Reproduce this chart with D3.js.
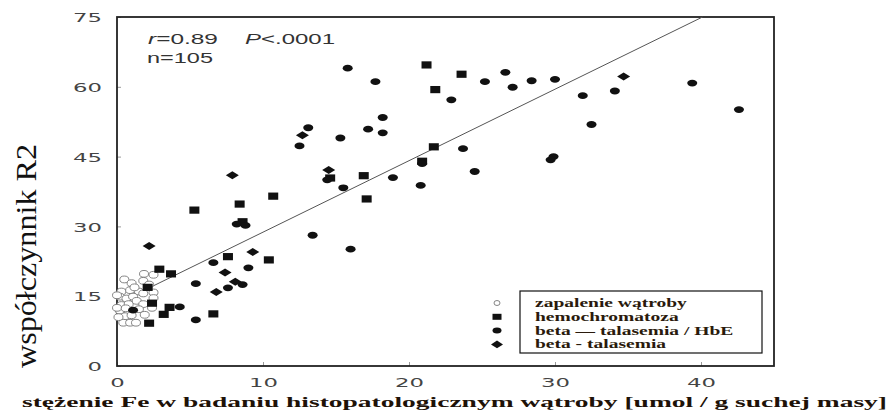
<!DOCTYPE html>
<html>
<head>
<meta charset="utf-8">
<script src="https://d3js.org/d3.v7.min.js"></script>
<style>
  body { margin: 0; background: #fff; }
  svg { display: block; }
</style>
</head>
<body>
<svg id="chart" width="890" height="417"></svg>
<script>
// ---- data ----------------------------------------------------------------
var seriesNames = ['zapalenie wątroby', 'hemochromatoza', 'beta \u2014 talasemia / HbE', 'beta - talasemia'];

// zapalenie wątroby (open circles) [Fe, R2]
var hepatitis = [
  [0.5, 18.6], [1.0, 17.8], [1.85, 19.8], [2.5, 19.6], [1.8, 18.3], [0.3, 16.0],
  [0.9, 16.3], [1.5, 16.0], [0.2, 14.9], [0.65, 14.5], [1.1, 14.9], [1.8, 15.6],
  [2.5, 15.8], [2.5, 14.6], [0.3, 13.1], [0.8, 13.3], [1.35, 14.0], [1.8, 13.3],
  [0.2, 11.9], [0.8, 11.6], [1.5, 12.2], [0.55, 10.7], [1.0, 10.9], [0.43, 9.3],
  [0.9, 9.3], [1.3, 9.3], [0.0, 15.2], [0.0, 12.5], [2.2, 17.5], [1.9, 11.0],
  [2.4, 12.5], [0.1, 10.5], [1.2, 16.9], [0.6, 12.4]
];

// hemochromatoza (squares)
var hemochromatosis = [
  [21.2, 64.7], [23.6, 62.7], [21.8, 59.4], [21.7, 47.1], [20.9, 44.0], [16.9, 40.9],
  [14.6, 40.4], [10.7, 36.5], [17.1, 35.9], [8.4, 34.8], [5.3, 33.5], [8.6, 31.0],
  [7.6, 23.5], [10.4, 22.8], [2.9, 20.8], [3.7, 19.8], [2.1, 16.9], [2.4, 13.5],
  [3.6, 12.6], [3.2, 11.1], [6.6, 11.2], [2.2, 9.2]
];

// beta - talasemia / HbE (filled circles)
var betaThalHbE = [
  [15.8, 64.0], [17.7, 61.1], [18.2, 53.4], [13.1, 51.2], [12.5, 47.3], [15.3, 49.0],
  [17.2, 50.9], [18.2, 50.1], [14.4, 40.0], [18.9, 40.5], [15.5, 38.3], [22.9, 57.2],
  [25.2, 61.1], [26.6, 63.1], [27.1, 59.9], [28.4, 61.3], [30.0, 61.6], [31.9, 58.1],
  [34.1, 59.1], [39.4, 60.8], [42.6, 55.1], [32.5, 51.9], [23.7, 46.7], [20.9, 43.5],
  [24.5, 41.8], [20.8, 38.8], [29.9, 45.0], [29.7, 44.3], [8.2, 30.5], [8.8, 30.2],
  [13.4, 28.1], [16.0, 25.1], [6.6, 22.2], [9.0, 21.1], [5.4, 17.7], [8.6, 17.5],
  [7.6, 16.8], [4.3, 12.7], [5.4, 9.9], [1.1, 12.0]
];

// beta - talasemia (diamonds)
var betaThal = [
  [12.7, 49.6], [7.9, 41.0], [14.5, 42.1], [34.7, 62.2], [2.2, 25.8], [9.3, 24.5],
  [7.4, 20.1], [6.8, 15.9], [8.1, 18.1]
];

var xTicks = [0, 10, 20, 30, 40];
var yTicks = [0, 15, 30, 45, 60, 75];

// regression line R2 = a + b * Fe
var fitIntercept = 13.4;
var fitSlope = 1.536;
var fitFrom = 2.5;

var statsR = '0.89', statsP = '<.0001', statsN = '105';

var yTitle = 'współczynnik R2';
var xTitle = 'stężenie Fe w badaniu histopatologicznym wątroby [umol / g suchej masy]';

// ---- layout ---------------------------------------------------------------
var svg = d3.select('#chart');
var plotL = 117, plotR = 774, plotT = 17, plotB = 366;

var x = d3.scaleLinear().domain([0, 45]).range([plotL, plotR]);
var y = d3.scaleLinear().domain([0, 75]).range([plotB, plotT]);

var serif = '"Liberation Serif", "Times New Roman", serif';

// the source picture is stretched sideways, so text is widened to match
function widen (sel, sx) {
    sel.each(function () {
        var w = this.getComputedTextLength();
        d3.select(this).attr('textLength', w * sx).attr('lengthAdjust', 'spacingAndGlyphs');
    });
}

// axes (ticks point inwards, domain path replaced by the frame)
var xAxis = svg.append('g')
    .attr('transform', 'translate(0,' + plotB + ')')
    .call(d3.axisBottom(x).tickValues(xTicks).tickSize(-4).tickPadding(12));

var yAxis = svg.append('g')
    .attr('transform', 'translate(' + plotL + ',0)')
    .call(d3.axisLeft(y).tickValues(yTicks).tickSize(-4).tickPadding(15));

[xAxis, yAxis].forEach(function (g) {
    g.select('.domain').remove();
    g.selectAll('.tick line').attr('stroke', '#999');
    g.selectAll('.tick text')
        .attr('fill', '#444')
        .style('font-family', '"DejaVu Sans", sans-serif')
        .style('font-size', '13px');
    widen(g.selectAll('.tick text'), 1.75);
});
yAxis.selectAll('.tick text').attr('dy', '0.36em');

// frame
svg.append('rect')
    .attr('x', plotL).attr('y', plotT)
    .attr('width', plotR - plotL).attr('height', plotB - plotT)
    .attr('fill', 'none')
    .attr('stroke', '#222')
    .attr('stroke-width', 1.8);

// regression line, cut at the top of the frame
var fitTo = (y.domain()[1] - fitIntercept) / fitSlope;
svg.append('line')
    .attr('x1', x(fitFrom)).attr('y1', y(fitIntercept + fitSlope * fitFrom))
    .attr('x2', x(fitTo)).attr('y2', y(fitIntercept + fitSlope * fitTo))
    .attr('stroke', '#555')
    .attr('stroke-width', 1);

// markers
function openCircle (g) {
    g.append('ellipse').attr('rx', 4.5).attr('ry', 3.4)
        .attr('fill', '#fff').attr('stroke', '#777').attr('stroke-width', 0.9);
}
function square (g) {
    g.append('rect').attr('x', -5).attr('y', -3.6).attr('width', 10).attr('height', 7.2)
        .attr('fill', '#111');
}
function dot (g) {
    g.append('ellipse').attr('rx', 5).attr('ry', 3.4).attr('fill', '#111');
}
function diam (g) {
    g.append('path').attr('d', 'M-6.5,0L0,-4L6.5,0L0,4Z').attr('fill', '#111');
}

function plotSeries (data, draw) {
    var pts = svg.append('g').selectAll('g')
        .data(data)
        .enter().append('g')
        .attr('transform', function (d) { return 'translate(' + x(d[0]) + ',' + y(d[1]) + ')'; });
    draw(pts);
}

plotSeries(hepatitis, openCircle);
plotSeries(hemochromatosis, square);
plotSeries(betaThalHbE, dot);
plotSeries(betaThal, diam);

// stats in the corner
var stats = svg.append('g')
    .attr('fill', '#333')
    .style('font-family', '"Liberation Sans", Arial, sans-serif')
    .style('font-size', '14px');

var t1 = stats.append('text').attr('x', 148).attr('y', 44);
t1.append('tspan').style('font-style', 'italic').text('r');
t1.append('tspan').text('=' + statsR);
t1.attr('textLength', 70).attr('lengthAdjust', 'spacingAndGlyphs');

var t2 = stats.append('text').attr('x', 245).attr('y', 44);
t2.append('tspan').style('font-style', 'italic').text('P');
t2.append('tspan').text(statsP);
t2.attr('textLength', 90).attr('lengthAdjust', 'spacingAndGlyphs');

stats.append('text').attr('x', 147).attr('y', 63)
    .text('n=' + statsN)
    .attr('textLength', 66).attr('lengthAdjust', 'spacingAndGlyphs');

// legend
svg.append('rect')
    .attr('x', 520).attr('y', 291)
    .attr('width', 242).attr('height', 62)
    .attr('fill', '#fff').attr('stroke', '#111').attr('stroke-width', 1.2);

var legendDraw = [
    function (g) { g.append('ellipse').attr('rx', 3).attr('ry', 2.5).attr('fill', '#fff').attr('stroke', '#777').attr('stroke-width', 0.9); },
    function (g) { g.append('rect').attr('x', -4.5).attr('y', -3).attr('width', 9).attr('height', 6).attr('fill', '#111'); },
    function (g) { g.append('ellipse').attr('rx', 4.5).attr('ry', 3).attr('fill', '#111'); },
    function (g) { g.append('path').attr('d', 'M-6,0L0,-3.8L6,0L0,3.8Z').attr('fill', '#111'); }
];

var legendRows = svg.append('g').selectAll('g')
    .data(seriesNames)
    .enter().append('g')
    .attr('transform', function (d, i) { return 'translate(0,' + (303 + i * 13.8) + ')'; });

legendRows.each(function (d, i) {
    var g = d3.select(this).append('g').attr('transform', 'translate(497,0)');
    legendDraw[i](g);
});

var legendText = legendRows.append('text')
    .attr('x', 535).attr('y', 4)
    .attr('fill', '#2a1a0c')
    .style('font-family', serif)
    .style('font-weight', 'bold')
    .style('font-size', '13px')
    .text(function (d) { return d; });
widen(legendText, 1.5);

// axis titles
svg.append('text')
    .attr('transform', 'translate(36,256) scale(1.2,1) rotate(-90)')
    .attr('text-anchor', 'middle')
    .attr('fill', '#111')
    .style('font-family', serif)
    .style('font-size', '24px')
    .attr('textLength', 224).attr('lengthAdjust', 'spacingAndGlyphs')
    .text(yTitle);

svg.append('text')
    .attr('x', 22).attr('y', 407)
    .attr('fill', '#1e1208')
    .style('font-family', serif)
    .style('font-weight', 'bold')
    .style('font-size', '15px')
    .attr('textLength', 865).attr('lengthAdjust', 'spacingAndGlyphs')
    .text(xTitle);
</script>
</body>
</html>
